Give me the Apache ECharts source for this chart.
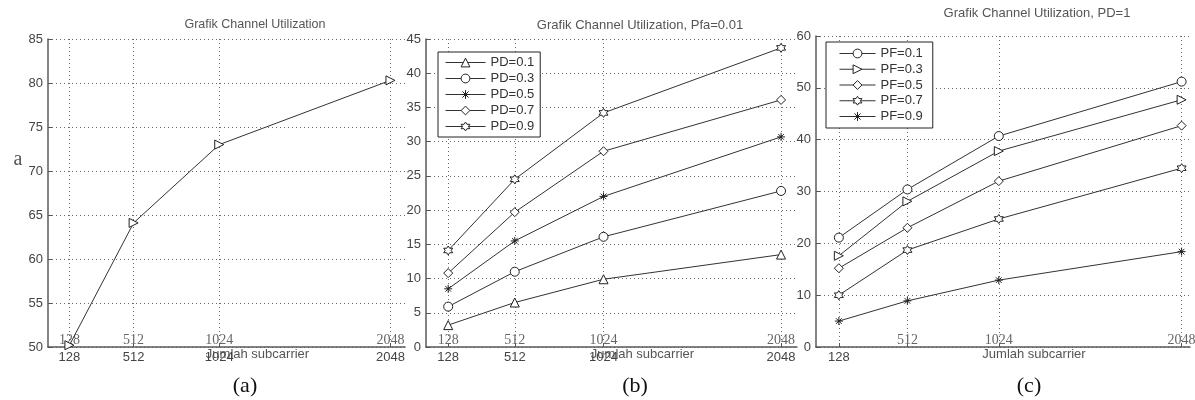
<!DOCTYPE html>
<html>
<head>
<meta charset="utf-8">
<script src="https://cdn.jsdelivr.net/npm/echarts@6/dist/echarts.min.js"></script>
<style>
html,body{margin:0;padding:0;background:#fff;}
#chart{width:1195px;height:400px;}
</style>
</head>
<body>
<div id="chart"></div>
<script>
// ---- data ----
const xTicks = [128, 512, 1024, 2048];
const xBottomLabelsA = [128, 512, 1024, 2048];
const xBottomLabelsB = [128, 512, 1024, 2048];
const xBottomLabelsC = [128];
const xInnerLabelsA = [128, 512, 1024, 2048];
const xInnerLabelsB = [128, 512, 1024, 2048];
const xInnerLabelsC = [512, 1024, 2048];

const aValues = [50.2, 64.1, 73.0, 80.3];

const bNames = ['PD=0.1', 'PD=0.3', 'PD=0.5', 'PD=0.7', 'PD=0.9'];
const bPD01 = [3.2, 6.5, 9.9, 13.5];
const bPD03 = [5.9, 11.0, 16.1, 22.8];
const bPD05 = [8.5, 15.5, 22.0, 30.7];
const bPD07 = [10.8, 19.7, 28.6, 36.1];
const bPD09 = [14.1, 24.5, 34.2, 43.7];

const cNames = ['PF=0.1', 'PF=0.3', 'PF=0.5', 'PF=0.7', 'PF=0.9'];
const cPF01 = [21.1, 30.4, 40.7, 51.2];
const cPF03 = [17.6, 28.1, 37.8, 47.7];
const cPF05 = [15.2, 23.0, 32.0, 42.7];
const cPF07 = [10.0, 18.7, 24.7, 34.5];
const cPF09 = [5.0, 8.9, 12.9, 18.4];

const titles = ['Grafik Channel Utilization', 'Grafik Channel Utilization, Pfa=0.01', 'Grafik Channel Utilization, PD=1'];
const panelLabels = ['(a)', '(b)', '(c)'];
const xName = 'Jumlah subcarrier';

// ---- styling ----
const SANS = 'Liberation Sans, Arial, sans-serif';
const SERIF = 'Liberation Serif, Times New Roman, serif';
const HEX = 'path://M0,-1L0.2887,-0.5L0.866,-0.5L0.577,0L0.866,0.5L0.2887,0.5L0,1L-0.2887,0.5L-0.866,0.5L-0.577,0L-0.866,-0.5L-0.2887,-0.5Z';
const AST = 'path://M0,-1L0,1M-1,0L1,0M-0.7,-0.7L0.7,0.7M-0.7,0.7L0.7,-0.7';
const SYM = {
  tri: {symbol: 'triangle', rotate: 0},
  triR: {symbol: 'triangle', rotate: -90},
  circ: {symbol: 'circle', rotate: 0},
  dia: {symbol: 'diamond', rotate: 0},
  hex: {symbol: HEX, rotate: 0},
  ast: {symbol: AST, rotate: 0}
};

const grids = [
  {left: 48, top: 39, width: 357, height: 308},
  {left: 426, top: 39, width: 371, height: 308},
  {left: 816, top: 36, width: 374, height: 311}
];
const xMax = [2135, 2140, 2095];
const yCfg = [
  {min: 50, max: 85, interval: 5},
  {min: 0, max: 45, interval: 5},
  {min: 0, max: 60, interval: 10}
];
const bottomLabels = [xBottomLabelsA, xBottomLabelsB, xBottomLabelsC];
const innerLabels = [xInnerLabelsA, xInnerLabelsB, xInnerLabelsC];

const gridLine = {show: true, lineStyle: {type: [1, 3], color: '#6a6a6a', width: 1}};
const axisLineStyle = {show: true, lineStyle: {color: '#5a5a5a', width: 1.5}};
const plain = v => String(v);

const xAxes = [];
const yAxes = [];
grids.forEach((g, i) => {
  xAxes.push({
    type: 'value', gridIndex: i, min: 0, max: xMax[i], position: 'bottom',
    axisLine: axisLineStyle,
    axisTick: {show: true, inside: true, length: 4, customValues: xTicks, lineStyle: {color: '#555'}},
    axisLabel: {customValues: bottomLabels[i], formatter: plain, fontFamily: SANS, fontSize: 13, color: '#444', margin: 4},
    splitLine: gridLine,
    name: xName, nameLocation: 'middle', nameGap: 1, nameMoveOverlap: false,
    nameTextStyle: {fontFamily: SANS, fontSize: 13, color: '#555', padding: [0, 0, 0, 62]}
  });
  xAxes.push({
    type: 'value', gridIndex: i, min: 0, max: xMax[i], position: 'bottom',
    axisLine: {show: false}, axisTick: {show: false}, splitLine: {show: false},
    axisLabel: {inside: true, customValues: innerLabels[i], formatter: plain, fontFamily: SERIF, fontSize: 14, color: '#666', margin: 0}
  });
  yAxes.push({
    type: 'value', gridIndex: i, min: yCfg[i].min, max: yCfg[i].max, interval: yCfg[i].interval,
    axisLine: axisLineStyle,
    axisTick: {show: true, inside: true, length: 4, lineStyle: {color: '#555'}},
    axisLabel: {fontFamily: SANS, fontSize: 13, color: '#444', margin: 5},
    splitLine: gridLine
  });
});

function mkSeries(name, vals, sym, gi) {
  const s = SYM[sym];
  return {
    name: name, type: 'line', xAxisIndex: gi * 2, yAxisIndex: gi,
    data: xTicks.map((x, k) => [x, vals[k]]),
    symbol: s.symbol, symbolRotate: s.rotate, symbolSize: sym === 'ast' ? 8 : 9,
    showAllSymbol: true,
    lineStyle: {color: '#333', width: 1},
    itemStyle: {color: '#fff', borderColor: '#222', borderWidth: 1},
    emphasis: {disabled: true},
    animation: false
  };
}

const series = [
  mkSeries('PF=0.3 (a)', aValues, 'triR', 0),
  mkSeries(bNames[0], bPD01, 'tri', 1),
  mkSeries(bNames[1], bPD03, 'circ', 1),
  mkSeries(bNames[2], bPD05, 'ast', 1),
  mkSeries(bNames[3], bPD07, 'dia', 1),
  mkSeries(bNames[4], bPD09, 'hex', 1),
  mkSeries(cNames[0], cPF01, 'circ', 2),
  mkSeries(cNames[1], cPF03, 'triR', 2),
  mkSeries(cNames[2], cPF05, 'dia', 2),
  mkSeries(cNames[3], cPF07, 'hex', 2),
  mkSeries(cNames[4], cPF09, 'ast', 2)
];

const legendText = {fontFamily: SANS, fontSize: 13, color: '#333'};
const legendLine = {width: 1, color: '#333'};
const legendItem = {color: '#fff', borderColor: '#222', borderWidth: 1};
const option = {
  animation: false,
  backgroundColor: '#fff',
  grid: grids.map(g => Object.assign({outerBoundsMode: 'none', containLabel: false}, g)),
  xAxis: xAxes,
  yAxis: yAxes,
  legend: [
    {data: bNames, orient: 'vertical', left: 438, top: 52, itemWidth: 40, itemHeight: 11, itemGap: 3,
     padding: [4, 6, 4, 7], borderColor: '#222', borderWidth: 1, backgroundColor: '#fff',
     lineStyle: legendLine, itemStyle: legendItem,
     textStyle: legendText, selectedMode: false},
    {data: cNames, orient: 'vertical', left: 826, top: 42, itemWidth: 36, itemHeight: 11, itemGap: 2.75,
     padding: [5, 10, 5, 13], borderColor: '#222', borderWidth: 1, backgroundColor: '#fff',
     lineStyle: legendLine, itemStyle: legendItem,
     textStyle: legendText, selectedMode: false}
  ],
  graphic: [
    {type: 'text', x: 255, y: 25, style: {text: titles[0], font: '12.5px ' + SANS, fill: '#555', textAlign: 'center', textVerticalAlign: 'middle'}},
    {type: 'text', x: 640, y: 25, style: {text: titles[1], font: '13px ' + SANS, fill: '#555', textAlign: 'center', textVerticalAlign: 'middle'}},
    {type: 'text', x: 1037, y: 13, style: {text: titles[2], font: '13px ' + SANS, fill: '#555', textAlign: 'center', textVerticalAlign: 'middle'}},
    {type: 'text', x: 245, y: 386, style: {text: panelLabels[0], font: '22px ' + SERIF, fill: '#111', textAlign: 'center', textVerticalAlign: 'middle'}},
    {type: 'text', x: 635, y: 386, style: {text: panelLabels[1], font: '22px ' + SERIF, fill: '#111', textAlign: 'center', textVerticalAlign: 'middle'}},
    {type: 'text', x: 1029, y: 386, style: {text: panelLabels[2], font: '22px ' + SERIF, fill: '#111', textAlign: 'center', textVerticalAlign: 'middle'}},
    {type: 'text', x: 18, y: 160, style: {text: 'a', font: '20px ' + SERIF, fill: '#555', textAlign: 'center', textVerticalAlign: 'middle'}}
  ],
  series: series
};

const chart = echarts.init(document.getElementById('chart'), null, {renderer: 'canvas'});
chart.setOption(option);
</script>
</body>
</html>
